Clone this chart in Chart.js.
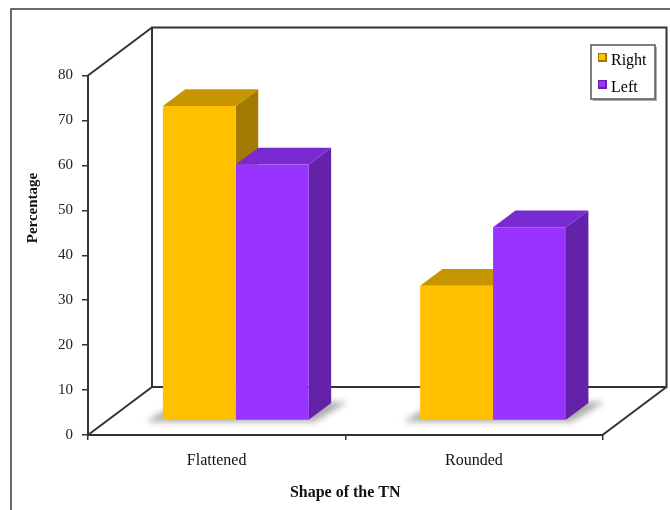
<!DOCTYPE html>
<html>
<head>
<meta charset="utf-8">
<title>Shape of the TN</title>
<script src="https://cdn.jsdelivr.net/npm/chart.js@4.4.1/dist/chart.umd.min.js"></script>
<style>
  html, body { margin: 0; padding: 0; background: #fff; }
  canvas { display: block; }
</style>
</head>
<body>
<canvas id="chart" width="670" height="510"></canvas>
<script>
// values
const categories = ['Flattened', 'Rounded'];
const seriesNames = ['Right', 'Left'];
const rightValues = [70, 30];
const leftValues = [57, 43];
const yTicks = [0, 10, 20, 30, 40, 50, 60, 70, 80];

const SERIF = '"Liberation Serif", "Times New Roman", serif';

// 3d box depth in pixels, and where the bars sit inside it
const depth = { dx: 64, dy: 48 };
const barFront = 0.3;
const barDepth = 0.35;

const colors = {
    right: { front: '#ffc000', top: '#c79500', side: '#a27a00' },
    left: { front: '#9933ff', top: '#7a2ad2', side: '#6322a8' }
};

/**
 * Draws the 3d walls, bar tops/sides, shadows, y title and legend
 */
const box3d = {
    id: 'box3d',

    beforeDraw(chart) {
        const { ctx, chartArea: a } = chart;
        ctx.save();
        ctx.fillStyle = '#fff';
        ctx.fillRect(0, 0, chart.width, chart.height);

        // outer frame
        ctx.strokeStyle = '#3a3a3a';
        ctx.lineWidth = 1.5;
        ctx.beginPath();
        ctx.moveTo(11, chart.height);
        ctx.lineTo(11, 9);
        ctx.lineTo(chart.width, 9);
        ctx.stroke();

        // back wall, side wall and floor edges
        const bl = a.left + depth.dx, bt = a.top - depth.dy;
        const br = a.right + depth.dx, bb = a.bottom - depth.dy;
        ctx.strokeStyle = '#333';
        ctx.lineWidth = 2;
        ctx.beginPath();
        ctx.moveTo(bl, bb);
        ctx.lineTo(bl, bt);
        ctx.lineTo(br, bt);
        ctx.lineTo(br, bb);
        ctx.lineTo(bl, bb);
        ctx.moveTo(a.left, a.top);
        ctx.lineTo(bl, bt);
        ctx.moveTo(a.left, a.bottom);
        ctx.lineTo(bl, bb);
        ctx.moveTo(a.right, a.bottom);
        ctx.lineTo(br, bb);
        ctx.stroke();
        ctx.restore();
    },

    beforeDatasetsDraw(chart) {
        const { ctx } = chart;
        const m0 = chart.getDatasetMeta(0), m1 = chart.getDatasetMeta(1);
        const ox = depth.dx * barFront, oy = depth.dy * barFront;
        const bx = depth.dx * barDepth, by = depth.dy * barDepth;

        // soft shadow on the floor under each pair of bars
        ctx.save();
        ctx.filter = 'blur(3px)';
        ctx.fillStyle = 'rgba(90, 90, 90, 0.5)';
        categories.forEach((c, i) => {
            const p = m0.data[i], q = m1.data[i];
            const l = p.x - p.width / 2 + ox, r = q.x + q.width / 2 + ox, y = p.base - oy;
            ctx.beginPath();
            ctx.moveTo(l - 17, y + 2);
            ctx.lineTo(r + 6, y + 2);
            ctx.lineTo(r + bx + 16, y - by - 1);
            ctx.lineTo(l + bx - 6, y - by - 1);
            ctx.closePath();
            ctx.fill();
        });
        ctx.restore();

        // side and top faces, first series first so the second overlaps it
        ctx.save();
        ctx.translate(ox, -oy);
        chart.data.datasets.forEach((ds, di) => {
            chart.getDatasetMeta(di).data.forEach(el => {
                const { x, y, base, width } = el.getProps(['x', 'y', 'base', 'width'], true);
                const l = x - width / 2, r = x + width / 2;
                ctx.fillStyle = ds.sideColor;
                ctx.beginPath();
                ctx.moveTo(r, y);
                ctx.lineTo(r + bx, y - by);
                ctx.lineTo(r + bx, base - by);
                ctx.lineTo(r, base);
                ctx.closePath();
                ctx.fill();
                ctx.fillStyle = ds.topColor;
                ctx.beginPath();
                ctx.moveTo(l, y);
                ctx.lineTo(r, y);
                ctx.lineTo(r + bx, y - by);
                ctx.lineTo(l + bx, y - by);
                ctx.closePath();
                ctx.fill();
            });
        });
        ctx.restore();
    },

    beforeDatasetDraw(chart) {
        // front faces are drawn by Chart.js, pushed into the box
        chart.ctx.save();
        chart.ctx.translate(depth.dx * barFront, -depth.dy * barFront);
    },

    afterDatasetDraw(chart) {
        chart.ctx.restore();
    },

    afterDraw(chart) {
        const { ctx } = chart;
        ctx.save();

        // y axis title
        ctx.translate(33, 208);
        ctx.rotate(-Math.PI / 2);
        ctx.font = 'bold 15px ' + SERIF;
        ctx.fillStyle = '#111';
        ctx.textAlign = 'center';
        ctx.textBaseline = 'middle';
        ctx.fillText('Percentage', 0, 0);
        ctx.setTransform(1, 0, 0, 1, 0, 0);

        // legend box
        const lx = 591, ly = 45, lw = 64, lh = 54;
        ctx.fillStyle = '#b0b0b0';
        ctx.fillRect(lx + 2, ly + 2, lw, lh);
        ctx.fillStyle = '#fff';
        ctx.fillRect(lx, ly, lw, lh);
        ctx.strokeStyle = '#555';
        ctx.lineWidth = 1.5;
        ctx.strokeRect(lx, ly, lw, lh);

        ctx.font = '16px ' + SERIF;
        ctx.textAlign = 'left';
        ctx.textBaseline = 'alphabetic';
        chart.data.datasets.forEach((ds, i) => {
            const ry = ly + 8 + i * 27;
            ctx.fillStyle = ds.sideColor;
            ctx.fillRect(lx + 7, ry, 9, 9);
            ctx.fillStyle = ds.backgroundColor;
            ctx.fillRect(lx + 8, ry + 1, 6, 6);
            ctx.fillStyle = '#000';
            ctx.fillText(ds.label, lx + 20, ry + 12);
        });
        ctx.restore();
    }
};

new Chart(document.getElementById('chart'), {
    type: 'bar',
    data: {
        labels: categories,
        datasets: [
            {
                label: seriesNames[0],
                data: rightValues,
                backgroundColor: colors.right.front,
                topColor: colors.right.top,
                sideColor: colors.right.side
            },
            {
                label: seriesNames[1],
                data: leftValues,
                backgroundColor: colors.left.front,
                topColor: colors.left.top,
                sideColor: colors.left.side
            }
        ]
    },
    options: {
        responsive: false,
        animation: false,
        events: [],
        layout: { padding: { left: 20, top: 75.5, right: 67.5, bottom: 4 } },
        datasets: {
            bar: { categoryPercentage: 0.567, barPercentage: 1, borderWidth: 0, clip: false }
        },
        plugins: {
            legend: { display: false },
            tooltip: { enabled: false }
        },
        scales: {
            x: {
                grid: { display: true, drawOnChartArea: false, tickLength: 5, color: '#333', lineWidth: 1.5 },
                border: { display: true, color: '#333', width: 2 },
                ticks: { color: '#111', font: { family: SERIF, size: 16 }, padding: 11 },
                title: {
                    display: true,
                    text: 'Shape of the TN',
                    color: '#111',
                    font: { family: SERIF, size: 16, weight: 'bold' }
                },
                afterFit: s => { s.height = 71; }
            },
            y: {
                min: yTicks[0],
                max: yTicks[yTicks.length - 1],
                afterBuildTicks: s => { s.ticks = yTicks.map(v => ({ value: v })); },
                grid: { display: true, drawOnChartArea: false, tickLength: 6, color: '#333', lineWidth: 1.5 },
                border: { display: true, color: '#333', width: 2 },
                ticks: { color: '#222', font: { family: SERIF, size: 15 }, padding: 9 },
                afterFit: s => { s.width = 68; }
            }
        }
    },
    plugins: [box3d]
});
</script>
</body>
</html>
